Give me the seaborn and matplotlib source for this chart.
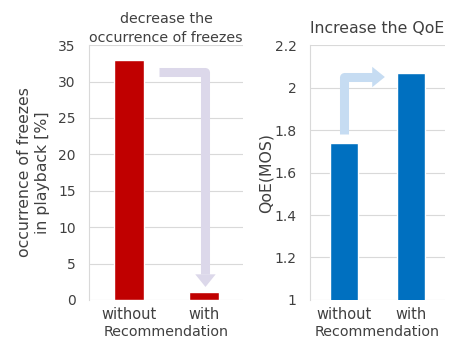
import matplotlib
matplotlib.use('Agg')
import pandas as pd
import matplotlib.pyplot as plt
import seaborn as sns

conditions = ['without', 'with']
freeze_pct = [32.9, 1.1]
qoe_mos = [1.74, 2.07]

sns.set_style('white')
plt.rcParams['font.family'] = ['DejaVu Sans']

df_f = pd.DataFrame({'cond': conditions, 'val': freeze_pct})
df_q = pd.DataFrame({'cond': conditions, 'val': qoe_mos})

fig = plt.figure(figsize=(4.51, 3.42), dpi=100)
ax1 = fig.add_axes([0.197, 0.123, 0.342, 0.745])
ax2 = fig.add_axes([0.687, 0.123, 0.300, 0.745])

txt = '#404040'
grid = '#d9d9d9'

sns.barplot(data=df_f, x='cond', y='val', color='#c00000', width=0.4,
            saturation=1, ax=ax1)
sns.barplot(data=df_q, x='cond', y='val', color='#0070c0', width=0.41,
            saturation=1, ax=ax2)

ax1.set_ylim(0, 35)
ax1.set_yticks(range(0, 36, 5))
ax1.set_xlim(-0.53, 1.52)
ax2.set_ylim(1, 2.2)
ax2.set_yticks([1, 1.2, 1.4, 1.6, 1.8, 2, 2.2])
ax2.set_yticklabels(['1', '1.2', '1.4', '1.6', '1.8', '2', '2.2'])
ax2.set_xlim(-0.5, 1.5)

for ax in (ax1, ax2):
    ax.yaxis.grid(True, color=grid, lw=0.8)
    ax.set_axisbelow(True)
    for s in ('top', 'right', 'bottom'):
        ax.spines[s].set_visible(False)
    ax.spines['left'].set_color(grid)
    ax.tick_params(axis='y', direction='inout', length=5, width=0.8,
                   color=grid, labelsize=10, labelcolor=txt, pad=7)
    ax.tick_params(axis='x', length=0, labelsize=10.5, labelcolor=txt, pad=5)
    ax.set_xlabel('Recommendation', fontsize=10.3, color=txt, labelpad=2.5)

ax1.set_ylabel('occurrence of freezes\nin playback [%]', fontsize=11.3,
               color=txt, labelpad=6, linespacing=1.25)
ax2.set_ylabel('QoE(MOS)', fontsize=11.3, color=txt, labelpad=1)
ax1.set_title('decrease the\noccurrence of freezes', fontsize=10.3,
              color=txt, pad=2, linespacing=1.45)
ax2.set_title('Increase the QoE', fontsize=11.3, color=txt, pad=8.5)

# decorative bent arrows: thick shaft + arrow head
head = dict(arrowstyle='simple,head_width=1.05,head_length=0.65,tail_width=0.01')
c1 = '#dcd8ea'
ax1.plot([0.40, 1.02, 1.02], [31.3, 31.3, 3.6], color=c1, lw=6.5,
         solid_joinstyle='round', solid_capstyle='butt')
ax1.annotate('', xy=(1.02, 1.4), xytext=(1.02, 3.4),
             arrowprops=dict(color=c1, lw=0, mutation_scale=14, **head))
c2 = '#c6dcf2'
ax2.plot([0.0, 0.0, 0.48], [1.78, 2.05, 2.05], color=c2, lw=6.5,
         solid_joinstyle='round', solid_capstyle='butt')
ax2.annotate('', xy=(0.65, 2.05), xytext=(0.46, 2.05),
             arrowprops=dict(color=c2, lw=0, mutation_scale=14, **head))

fig.savefig('out.png', dpi=100)
